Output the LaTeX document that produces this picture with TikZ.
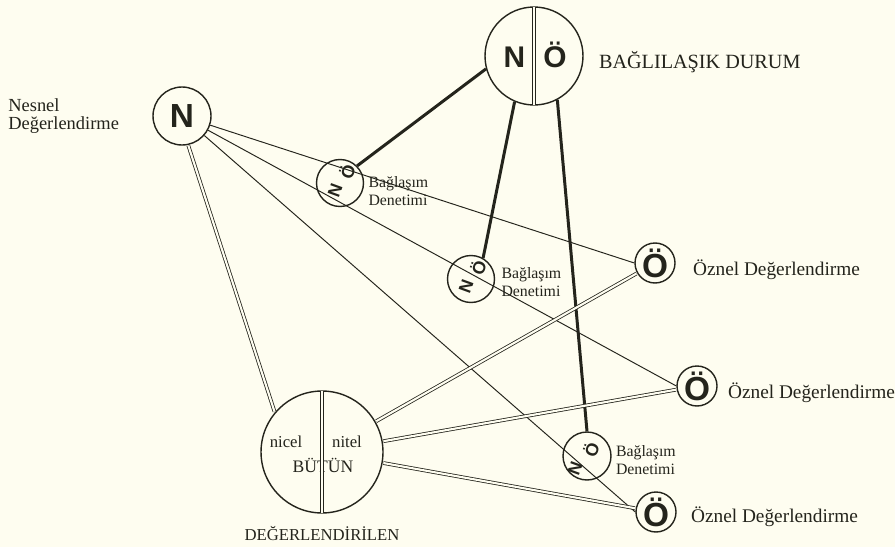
\documentclass[tikz,border=0pt]{standalone}
\usepackage{fontspec}
\setmainfont{Liberation Serif}
\setsansfont{Liberation Sans}
\usetikzlibrary{positioning}
\definecolor{paper}{HTML}{FEFDF0}
\definecolor{ink}{HTML}{24241C}

\begin{document}
\begin{tikzpicture}[x=0.02cm,y=-0.02cm]
  \tikzstyle{every node}=[inner sep=0pt,text=ink]
  \tikzstyle{disc}=[circle,draw=ink,line width=0.8pt]
  \tikzstyle{letter}=[font=\fontsize{17}{17}\selectfont\sffamily\bfseries,anchor=base]
  \tikzstyle{bigO}=[font=\fontsize{19}{19}\selectfont\sffamily\bfseries]
  \tikzstyle{tinyletter}=[font=\fontsize{10}{10}\selectfont\sffamily\bfseries,rotate=70]
  \tikzstyle{lbl}=[font=\fontsize{11}{12}\selectfont,align=left]
  \tikzstyle{smalllbl}=[font=\fontsize{9}{10}\selectfont,align=left]
  \tikzstyle{capslbl}=[font=\fontsize{11.5}{12}\selectfont]
  \tikzstyle{thinline}=[draw=ink,line width=0.55pt]
  \tikzstyle{boldline}=[draw=ink,line width=1.7pt]
  \tikzstyle{twinline}=[draw=ink,line width=0.45pt,double=paper,double distance=1.2pt,shorten <=0.4pt,shorten >=0.4pt]

  \fill[paper] (0,0) rectangle (895,547);
  \useasboundingbox (0,0) rectangle (895,547);

  % circles
  \node[disc,minimum size=11.6mm,font=\fontsize{19}{19}\selectfont\sffamily\bfseries] (N) at (182,116) {N};
  \node[disc,minimum size=19.6mm] (NO) at (534,56) {};
  \node[disc,minimum size=9.4mm] (C1) at (340,183) {};
  \node[disc,minimum size=9.4mm] (C2) at (471,279) {};
  \node[disc,minimum size=9.6mm] (C3) at (587,456) {};
  \node[disc,minimum size=8mm,bigO] (O1) at (655,263) {Ö};
  \node[disc,minimum size=8mm,bigO] (O2) at (697,386) {Ö};
  \node[disc,minimum size=8mm,bigO] (O3) at (656,512) {Ö};
  \node[disc,minimum size=24.4mm] (B) at (322,452) {};

  % letters in the circles
  \node[letter] (NOa) at ([xshift=-3.9mm,yshift=-2.4mm]NO.center) {N};
  \node[letter] (NOb) at ([xshift=4.2mm,yshift=-2.4mm]NO.center) {Ö};
  \node[tinyletter] (C1a) at ([shift={(-5,7)}]C1.center) {N};
  \node[tinyletter] (C1b) at ([shift={(7,-11)}]C1.center) {Ö};
  \node[tinyletter] (C2a) at ([shift={(-5,7)}]C2.center) {N};
  \node[tinyletter] (C2b) at ([shift={(7,-11)}]C2.center) {Ö};
  \node[tinyletter] (C3a) at ([shift={(-12,12)}]C3.center) {N};
  \node[tinyletter] (C3b) at ([shift={(4,-6)}]C3.center) {Ö};
  \node[font=\fontsize{9.5}{10}\selectfont] (Ba) at ([shift={(-36,-10)}]B.center) {nicel};
  \node[font=\fontsize{9.5}{10}\selectfont] (Bb) at ([shift={(25,-10)}]B.center) {nitel};
  \node[font=\fontsize{10}{10}\selectfont] (Bc) at ([shift={(1,13)}]B.center) {BÜTÜN};

  % labels
  \node[lbl,left=6.6mm of N,font=\fontsize{10.5}{10.5}\selectfont] (Nt) {Nesnel\\Değerlendirme};
  \node[capslbl,right=3mm of NO,yshift=-1.3mm] (NOt) {BAĞLILAŞIK DURUM};
  \node[smalllbl,right=0.8mm of C1,yshift=-1.6mm] (C1t) {Bağlaşım\\Denetimi};
  \node[smalllbl,right=1.2mm of C2,yshift=-0.6mm] (C2t) {Bağlaşım\\Denetimi};
  \node[smalllbl,right=0.8mm of C3,yshift=-0.8mm] (C3t) {Bağlaşım\\Denetimi};
  \node[lbl,right=3.4mm of O1,yshift=-1.4mm] (O1t) {Öznel Değerlendirme};
  \node[lbl,right=2mm of O2,yshift=-1.4mm] (O2t) {Öznel Değerlendirme};
  \node[lbl,right=2.8mm of O3,yshift=-1mm] (O3t) {Öznel Değerlendirme};
  \node[capslbl,below=2.4mm of B,font=\fontsize{9.5}{10}\selectfont] (Bt) {DEĞERLENDİRİLEN};

  % connectors
  \draw[thinline] (N) -- (O1.west);
  \draw[thinline] (N) -- (O2.west);
  \draw[thinline] (N) -- (O3.west);
  \draw[boldline] (NO.-165) -- (C1.45);
  \draw[boldline] (NO.-113) -- (C2.60);
  \draw[boldline] (NO.-62) -- (C3.north);
  \draw[twinline] (N.-78) -- (B.140);
  \draw[twinline] (B) -- (O1);
  \draw[twinline] (B) -- (O2);
  \draw[twinline] (B) -- (O3);
  \draw[twinline] (NO.north) -- (NO.south);
  \draw[twinline] (B.north) -- (B.south);
\end{tikzpicture}
\end{document}
